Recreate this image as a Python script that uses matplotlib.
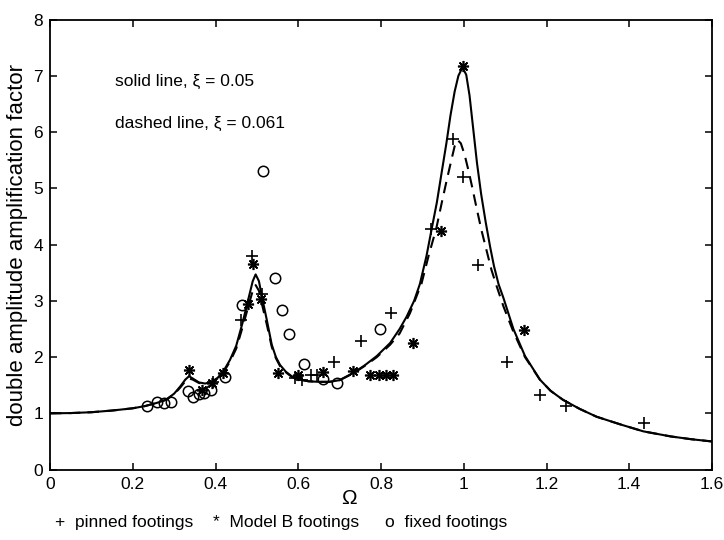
import matplotlib
matplotlib.use("Agg")
import matplotlib.pyplot as plt

plt.rcParams['font.family'] = ['Liberation Sans', 'DejaVu Sans']

# Theoretical response, xi = 0.05 (solid)
omega_solid = [0.0, 0.05, 0.10, 0.15, 0.20, 0.23, 0.26, 0.28, 0.30, 0.315, 0.327, 0.336,
               0.345, 0.36, 0.375, 0.39, 0.405, 0.42, 0.435, 0.45, 0.465, 0.48, 0.49,
               0.497, 0.505, 0.512, 0.524, 0.536, 0.546, 0.556, 0.57, 0.584, 0.60, 0.625,
               0.65, 0.675, 0.70, 0.733, 0.76, 0.79, 0.822, 0.845, 0.862, 0.88, 0.894,
               0.91, 0.922, 0.935, 0.947, 0.958, 0.968, 0.978, 0.987, 0.997, 1.006, 1.014,
               1.023, 1.032, 1.042, 1.053, 1.064, 1.073, 1.084, 1.096, 1.12, 1.148, 1.184,
               1.21, 1.24, 1.28, 1.321, 1.38, 1.434, 1.50, 1.55, 1.60]
amp_solid = [1.00, 1.005, 1.02, 1.05, 1.09, 1.13, 1.19, 1.24, 1.35, 1.48, 1.60, 1.66,
             1.62, 1.55, 1.53, 1.56, 1.63, 1.76, 1.95, 2.20, 2.60, 3.05, 3.35,
             3.47, 3.35, 3.08, 2.66, 2.22, 2.00, 1.86, 1.74, 1.66, 1.61, 1.57,
             1.56, 1.56, 1.59, 1.72, 1.85, 2.02, 2.25, 2.50, 2.72, 3.00, 3.30,
             3.80, 4.26, 4.75, 5.30, 5.80, 6.30, 6.72, 7.00, 7.15, 7.02, 6.65,
             6.05, 5.45, 4.90, 4.40, 3.95, 3.62, 3.30, 3.05, 2.50, 2.02, 1.60,
             1.40, 1.24, 1.08, 0.94, 0.80, 0.68, 0.59, 0.54, 0.50]

# Theoretical response, xi = 0.061 (dashed)
omega_dashed = [0.0, 0.05, 0.10, 0.15, 0.20, 0.23, 0.26, 0.28, 0.30, 0.315, 0.327, 0.336,
                0.345, 0.36, 0.375, 0.39, 0.405, 0.42, 0.435, 0.45, 0.465, 0.48, 0.49,
                0.497, 0.505, 0.512, 0.524, 0.536, 0.546, 0.556, 0.57, 0.584, 0.60, 0.625,
                0.65, 0.675, 0.70, 0.733, 0.76, 0.79, 0.822, 0.845, 0.87, 0.898, 0.915,
                0.934, 0.947, 0.959, 0.97, 0.978, 0.985, 0.993, 1.002, 1.012, 1.021, 1.031,
                1.043, 1.055, 1.067, 1.08, 1.096, 1.12, 1.148, 1.184, 1.21, 1.24, 1.28,
                1.321, 1.38, 1.434, 1.50, 1.55, 1.60]
amp_dashed = [1.00, 1.005, 1.02, 1.05, 1.09, 1.13, 1.19, 1.24, 1.34, 1.46, 1.57, 1.62,
              1.60, 1.54, 1.52, 1.55, 1.62, 1.74, 1.92, 2.15, 2.52, 2.92, 3.18,
              3.28, 3.18, 2.95, 2.58, 2.18, 1.98, 1.84, 1.73, 1.65, 1.60, 1.57,
              1.56, 1.56, 1.59, 1.71, 1.84, 2.00, 2.22, 2.42, 2.78, 3.31, 3.80,
              4.30, 4.75, 5.15, 5.50, 5.75, 5.86, 5.80, 5.60, 5.30, 5.00, 4.65,
              4.25, 3.90, 3.55, 3.25, 2.90, 2.45, 2.00, 1.60, 1.40, 1.24, 1.08,
              0.94, 0.80, 0.68, 0.59, 0.54, 0.50]

# Measured values
pinned_omega = [0.395, 0.462, 0.488, 0.513, 0.592, 0.610, 0.630, 0.645, 0.687, 0.751,
                0.824, 0.920, 0.975, 0.999, 1.035, 1.104, 1.184, 1.247, 1.435]
pinned_amp = [1.55, 2.66, 3.79, 3.12, 1.62, 1.60, 1.68, 1.68, 1.92, 2.29,
              2.79, 4.28, 5.88, 5.21, 3.63, 1.91, 1.32, 1.13, 0.82]

modelb_omega = [0.336, 0.368, 0.391, 0.417, 0.478, 0.491, 0.509, 0.552, 0.600, 0.659,
                0.732, 0.773, 0.795, 0.812, 0.828, 0.878, 0.945, 0.999, 1.146]
modelb_amp = [1.77, 1.41, 1.54, 1.72, 2.94, 3.66, 3.03, 1.71, 1.68, 1.74,
              1.75, 1.69, 1.69, 1.69, 1.69, 2.25, 4.25, 7.17, 2.48]

fixed_omega = [0.234, 0.258, 0.275, 0.292, 0.333, 0.345, 0.359, 0.373, 0.388, 0.423,
               0.463, 0.516, 0.544, 0.560, 0.578, 0.615, 0.659, 0.694, 0.797]
fixed_amp = [1.13, 1.21, 1.19, 1.21, 1.39, 1.29, 1.35, 1.37, 1.42, 1.65,
             2.93, 5.31, 3.40, 2.84, 2.41, 1.87, 1.61, 1.54, 2.50]

x_ticks = [0, 0.2, 0.4, 0.6, 0.8, 1, 1.2, 1.4, 1.6]
x_tick_labels = ['0', '0.2', '0.4', '0.6', '0.8', '1', '1.2', '1.4', '1.6']
y_ticks = [0, 1, 2, 3, 4, 5, 6, 7, 8]

W, H = 724, 540
fig = plt.figure(figsize=(W / 100, H / 100), dpi=100)
ax = fig.add_axes([50 / W, 1 - 469.6 / H, 662 / W, 450 / H])

ax.plot(omega_solid, amp_solid, color='black', lw=1.5, solid_joinstyle='round')
ax.plot(omega_dashed, amp_dashed, color='black', lw=1.5, dashes=(5.5, 3.5))

ax.plot(pinned_omega, pinned_amp, linestyle='none', marker='+', ms=8,
        mew=1.2, color='black')
ax.plot(modelb_omega, modelb_amp, linestyle='none', marker=(8, 2, 0), ms=8,
        mew=1.2, color='black')
ax.plot(fixed_omega, fixed_amp, linestyle='none', marker='o', ms=7.5,
        mew=1.1, mfc='none', color='black')

ax.set_xlim(0, 1.6)
ax.set_ylim(0, 8)
ax.set_xticks(x_ticks)
ax.set_xticklabels(x_tick_labels)
ax.set_yticks(y_ticks)
ax.tick_params(direction='in', length=5, width=1.1, top=True, right=True,
               labelsize=12.5, pad=5)
for s in ax.spines.values():
    s.set_linewidth(1.3)

ax.set_ylabel('double amplitude amplification factor', fontsize=16, labelpad=4)

ax.text(0.157, 6.90, 'solid line, ξ = 0.05', fontsize=12.5, va='center', ha='left')
ax.text(0.157, 6.15, 'dashed line, ξ = 0.061', fontsize=12.5, va='center', ha='left')

fig.text(349 / W, 1 - 498 / H, 'Ω', fontsize=15, ha='center', va='center')

fig.text(55 / W, 1 - 522 / H, '+  pinned footings', fontsize=12.5, ha='left', va='center')
fig.text(213 / W, 1 - 522 / H, '*  Model B footings', fontsize=12.5, ha='left', va='center')
fig.text(385 / W, 1 - 522 / H, 'o  fixed footings', fontsize=12.5, ha='left', va='center')

fig.savefig('out.png', dpi=100, facecolor='white')
